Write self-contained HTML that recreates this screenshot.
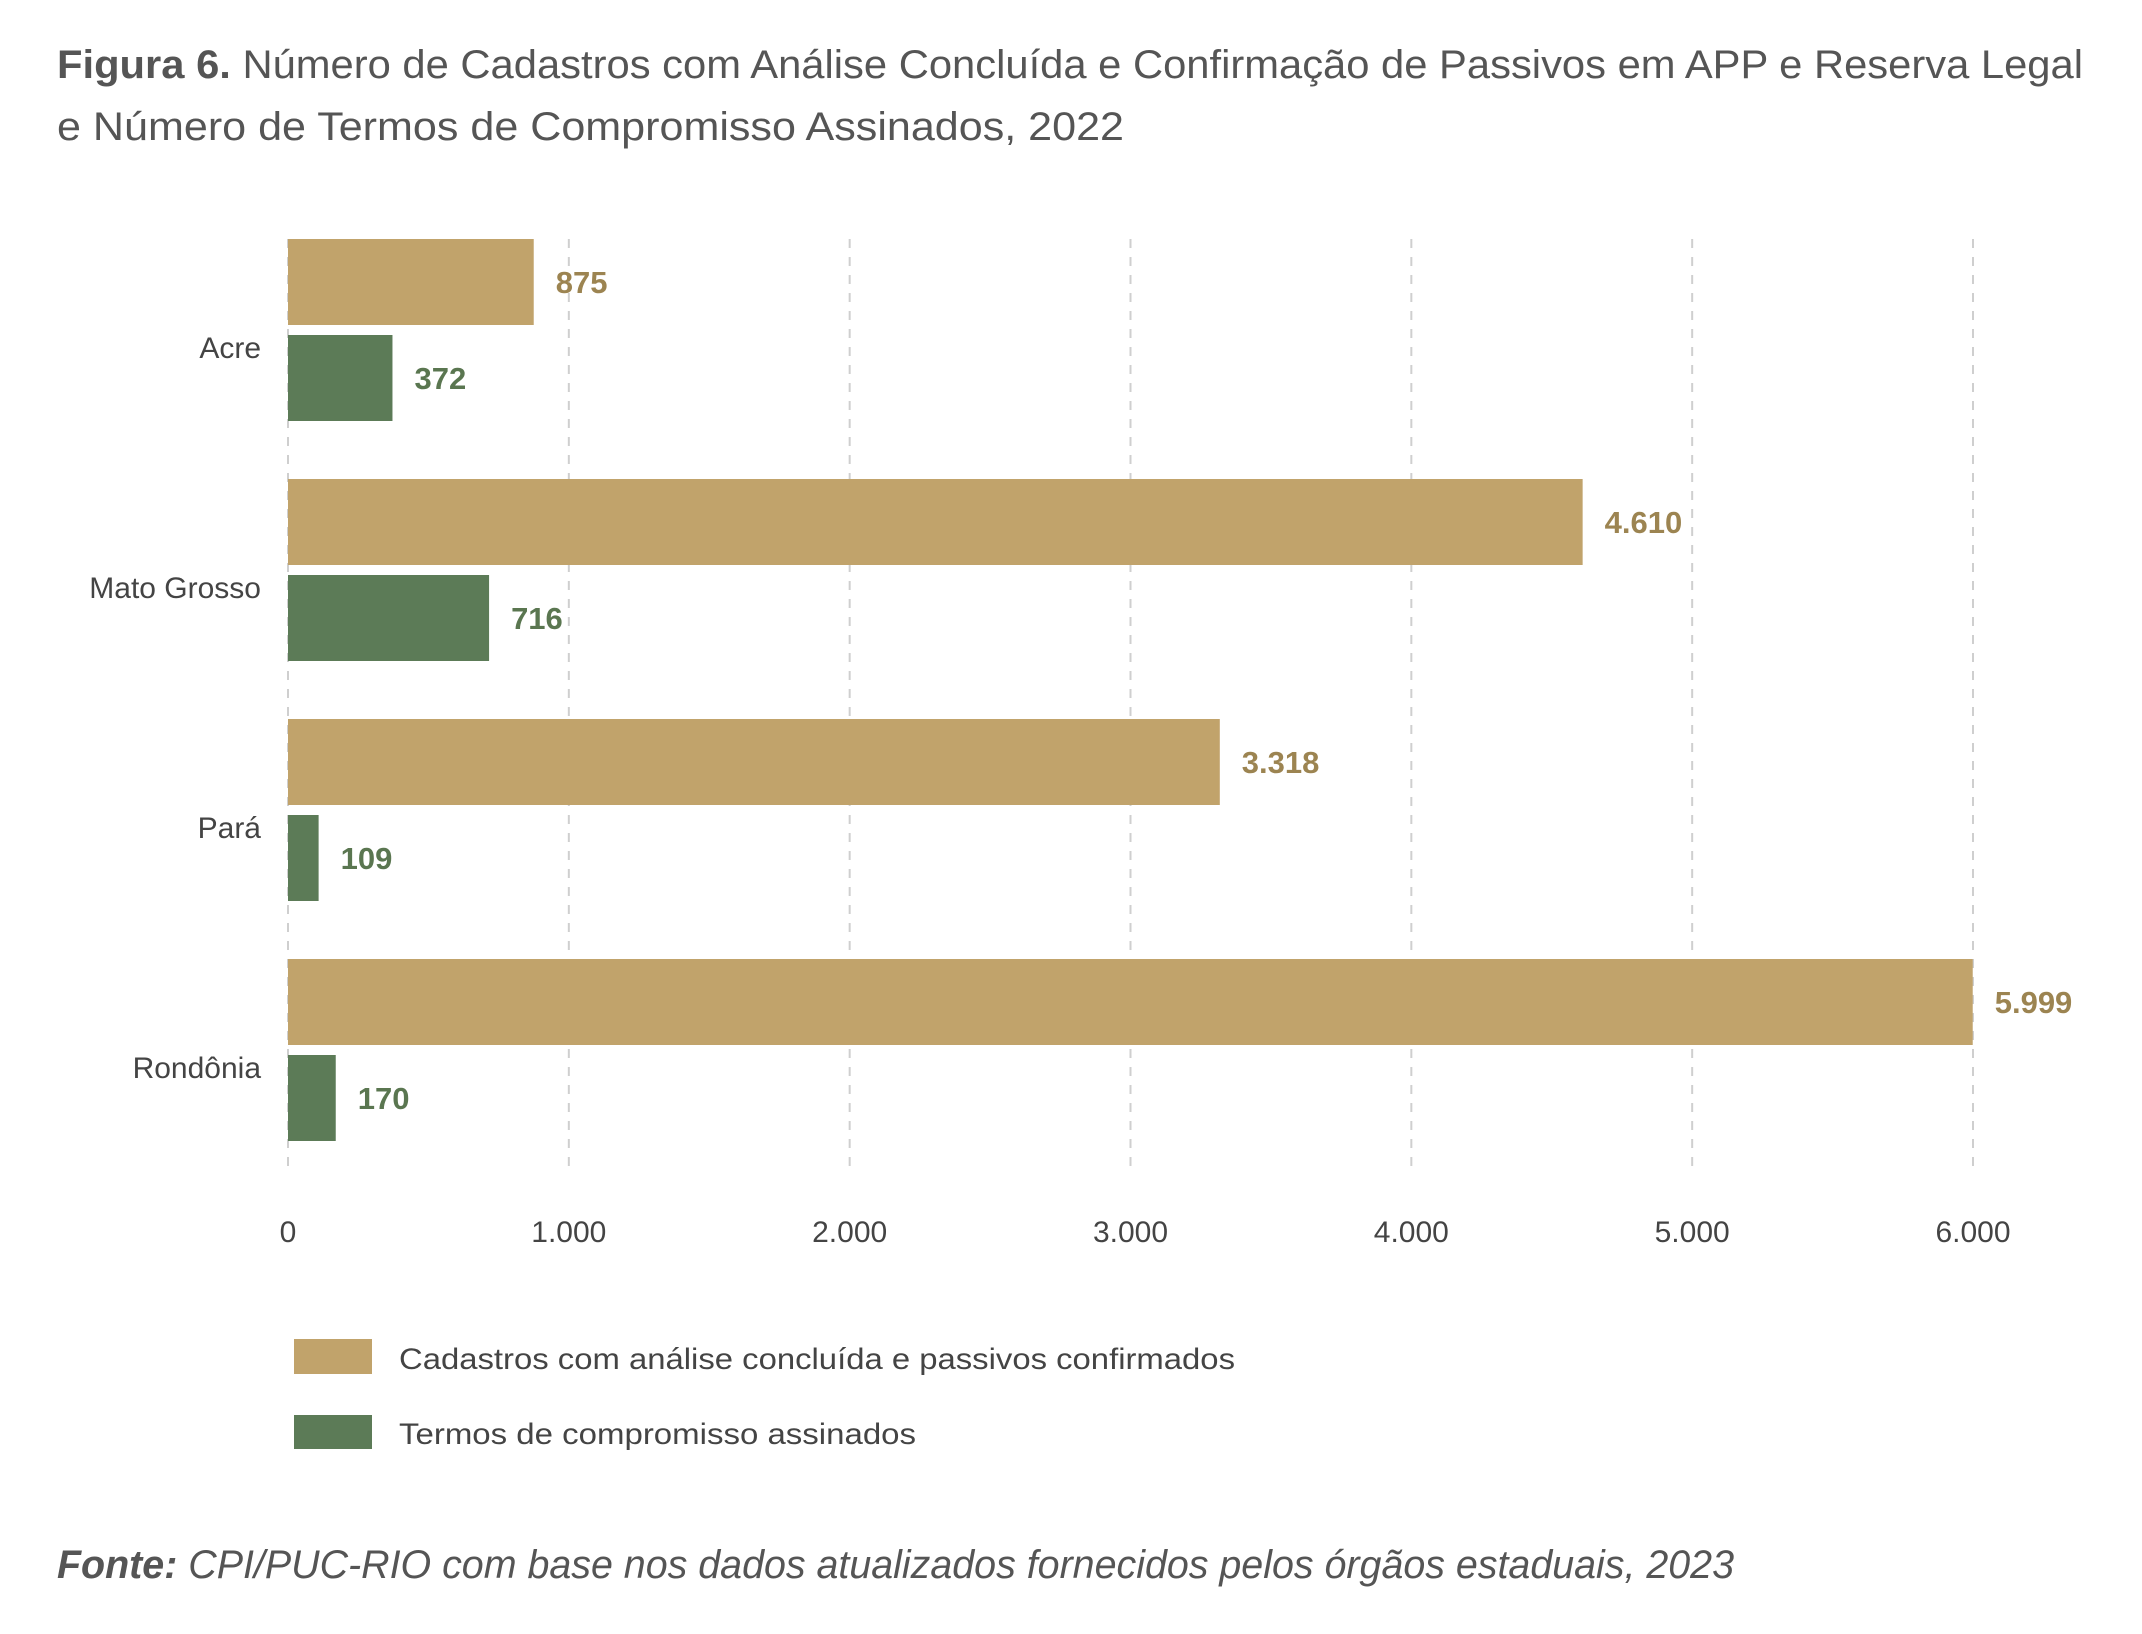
<!DOCTYPE html>
<html><head><meta charset="utf-8"><style>html,body{margin:0;padding:0;background:#fff}svg{display:block}text{font-family:"Liberation Sans",sans-serif}</style></head>
<body>
<svg id="chart" width="2142" height="1634" viewBox="0 0 2142 1634" xmlns="http://www.w3.org/2000/svg">
<g>
<text x="57" y="78" font-size="40" fill="#555" textLength="2026" lengthAdjust="spacingAndGlyphs"><tspan font-weight="bold">Figura 6.</tspan> Número de Cadastros com Análise Concluída e Confirmação de Passivos em APP e Reserva Legal</text>
<text x="57" y="140" font-size="40" fill="#555" textLength="1067" lengthAdjust="spacingAndGlyphs">e Número de Termos de Compromisso Assinados, 2022</text>
</g>
<g id="grid"></g>
<g id="bars"></g>
<g id="xticks"></g>
<g id="ylabels"></g>
<g>
<rect x="294" y="1339" width="78" height="35" fill="#c1a36b"/>
<text x="399" y="1369" font-size="30" fill="#444" textLength="836" lengthAdjust="spacingAndGlyphs">Cadastros com análise concluída e passivos confirmados</text>
<rect x="294" y="1415" width="78" height="34" fill="#5c7b57"/>
<text x="399" y="1444" font-size="30" fill="#444" textLength="517" lengthAdjust="spacingAndGlyphs">Termos de compromisso assinados</text>
</g>
<text x="57" y="1578" font-size="40" font-style="italic" fill="#555" textLength="1677" lengthAdjust="spacingAndGlyphs"><tspan font-weight="bold">Fonte:</tspan> CPI/PUC-RIO com base nos dados atualizados fornecidos pelos órgãos estaduais, 2023</text>
</svg>
<script>
const categories = ["Acre", "Mato Grosso", "Pará", "Rondônia"];
const cadastros = [875, 4610, 3318, 5999];
const termos = [372, 716, 109, 170];
const cadastrosLabels = ["875", "4.610", "3.318", "5.999"];
const termosLabels = ["372", "716", "109", "170"];
const tickValues = [0, 1000, 2000, 3000, 4000, 5000, 6000];
const tickLabels = ["0", "1.000", "2.000", "3.000", "4.000", "5.000", "6.000"];

const NS = "http://www.w3.org/2000/svg";
const X0 = 288, X1 = 1973, XMAX = 6000;
const x = v => X0 + (X1 - X0) * v / XMAX;
const groupTop = i => 239 + i * 240;
const BH = 86, GAP = 10;
function mk(tag, attrs, parent) {
  const e = document.createElementNS(NS, tag);
  for (const k in attrs) e.setAttribute(k, attrs[k]);
  parent.appendChild(e);
  return e;
}
const grid = document.getElementById('grid');
const xt = document.getElementById('xticks');
tickValues.forEach((v, i) => {
  const l = mk('line', {x1: x(v), x2: x(v), y1: 239, y2: 1171, stroke: '#cfcfcf', 'stroke-width': 2, 'stroke-dasharray': '9 9'}, grid);
  
  
  const t = mk('text', {x: x(v), y: 1242, 'font-size': 30, fill: '#444', 'text-anchor': 'middle'}, xt);
  t.textContent = tickLabels[i];
  
  
});
const bars = document.getElementById('bars');
const yl = document.getElementById('ylabels');
categories.forEach((c, i) => {
  const top = groupTop(i);
  const b1 = mk('rect', {x: X0, y: top, width: x(cadastros[i]) - X0, height: BH, fill: '#c1a36b'}, bars);
  
  
  const t1 = mk('text', {x: x(cadastros[i]) + 22, y: top + BH / 2 + 11, 'font-size': 31, 'font-weight': 'bold', fill: '#9c8451'}, bars);
  t1.textContent = cadastrosLabels[i];
  
  
  const top2 = top + BH + GAP;
  const b2 = mk('rect', {x: X0, y: top2, width: x(termos[i]) - X0, height: BH, fill: '#5c7b57'}, bars);
  
  
  const t2 = mk('text', {x: x(termos[i]) + 22, y: top2 + BH / 2 + 11, 'font-size': 31, 'font-weight': 'bold', fill: '#5a7650'}, bars);
  t2.textContent = termosLabels[i];
  
  
  const yt = mk('text', {x: 261, y: top + BH + GAP / 2 + 28, 'font-size': 30, fill: '#444', 'text-anchor': 'end'}, yl);
  yt.textContent = c;
  
  
});
</script>
</body></html>
